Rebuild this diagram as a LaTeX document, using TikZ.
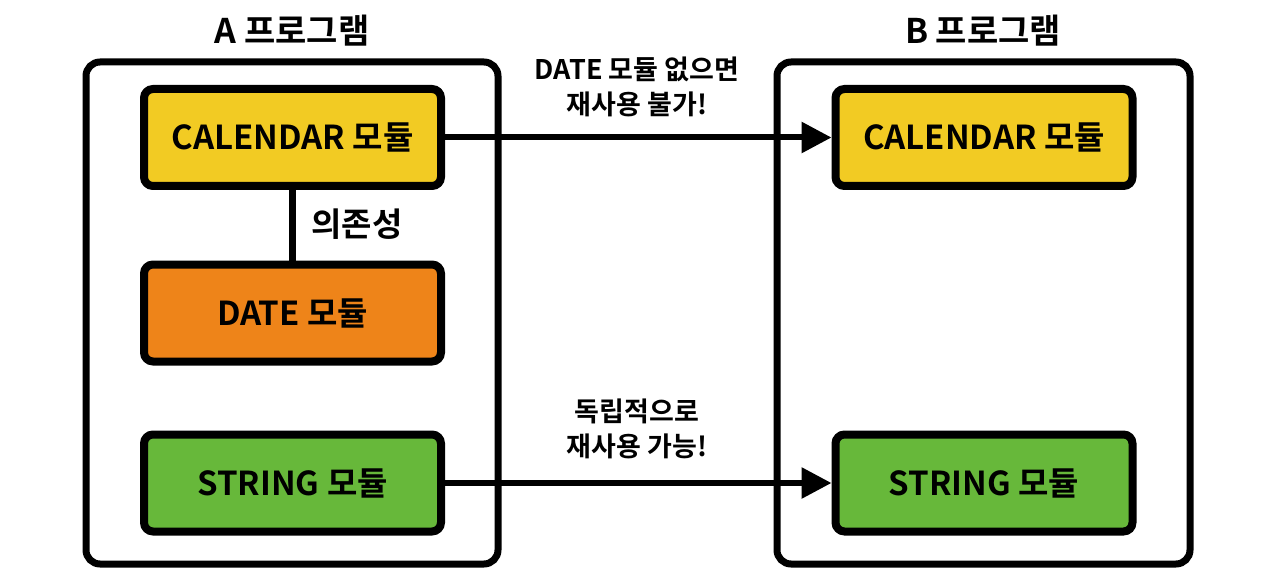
\documentclass[tikz,border=0pt]{standalone}
\usepackage{fontspec}
\setmainfont{Noto Sans CJK KR}[BoldFont={Noto Sans CJK KR Bold}]
\usetikzlibrary{arrows.meta}
\definecolor{calyel}{HTML}{F2CB23}
\definecolor{dateor}{HTML}{EE8419}
\definecolor{strgr}{HTML}{67B83A}
\begin{document}
\begin{tikzpicture}[x=1pt,y=-1pt,
  outer/.style={draw=black,line width=7pt,rounded corners=14pt},
  modbox/.style={draw=black,line width=8pt,rounded corners=9pt,minimum width=297pt,minimum height=97pt,inner sep=0pt,font=\fontsize{33}{38}\selectfont\bfseries},
  lbl/.style={font=\fontsize{27}{35}\selectfont\bfseries,align=center},
  deplbl/.style={font=\fontsize{33}{38}\selectfont\bfseries},
  ttl/.style={font=\fontsize{34}{40}\selectfont\bfseries},
  conn/.style={line width=6pt,-{Triangle[length=30pt,width=30pt]}}]
\useasboundingbox (0,0) rectangle (1269,588);
\fill[white] (0,0) rectangle (1269,588);
% outer boxes
\draw[outer] (86,62) rectangle (498,564);
\draw[outer] (777,62) rectangle (1190,564);
% titles
\node[ttl] (ta) at (292,31) {A 프로그램};
\node[ttl] (tb) at (983,31) {B 프로그램};
% modules
\node[modbox,fill=calyel] (calA) at (292.5,137.5) {CALENDAR 모듈};
\node[modbox,fill=dateor] (dateA) at (292.5,313) {DATE 모듈};
\node[modbox,fill=strgr] (strA) at (292.5,483) {STRING 모듈};
\node[modbox,fill=calyel] (calB) at (984,137.5) {CALENDAR 모듈};
\node[modbox,fill=strgr] (strB) at (984,483) {STRING 모듈};
% dependency
\draw[line width=7pt] (calA.south) -- (dateA.north);
\node[deplbl] (dep) at (357,224) {의존성};
% arrows
\draw[conn] (calA.east) -- (calB.west);
\draw[conn] (strA.east) -- (strB.west);
\node[lbl] (l1) at (637,87) {DATE 모듈 없으면\\재사용 불가!};
\node[lbl] (l2) at (637,429) {독립적으로\\재사용 가능!};
\end{tikzpicture}
\end{document}
